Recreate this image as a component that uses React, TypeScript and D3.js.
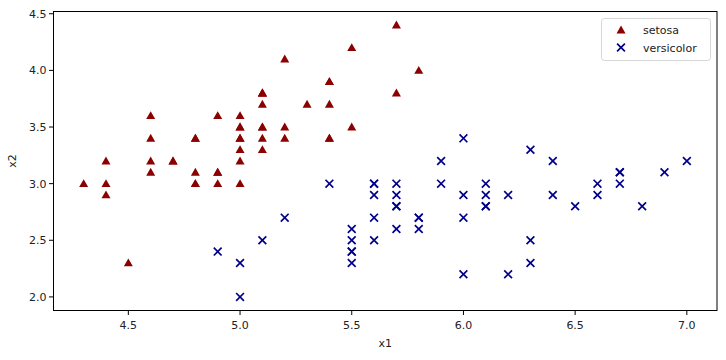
import React from "react";
import * as d3 from "d3";

const setosaX = [5.1,4.9,4.7,4.6,5.0,5.4,4.6,5.0,4.4,4.9,5.4,4.8,4.8,4.3,5.8,5.7,5.4,5.1,5.7,5.1,5.4,5.1,4.6,5.1,4.8,5.0,5.0,5.2,5.2,4.7,4.8,5.4,5.2,5.5,4.9,5.0,5.5,4.9,4.4,5.1,5.0,4.5,4.4,5.0,5.1,4.8,5.1,4.6,5.3,5.0];
const setosaY = [3.5,3.0,3.2,3.1,3.6,3.9,3.4,3.4,2.9,3.1,3.7,3.4,3.0,3.0,4.0,4.4,3.9,3.5,3.8,3.8,3.4,3.7,3.6,3.3,3.4,3.0,3.4,3.5,3.4,3.2,3.1,3.4,4.1,4.2,3.1,3.2,3.5,3.6,3.0,3.4,3.5,2.3,3.2,3.5,3.8,3.0,3.8,3.2,3.7,3.3];
const versiX = [7.0,6.4,6.9,5.5,6.5,5.7,6.3,4.9,6.6,5.2,5.0,5.9,6.0,6.1,5.6,6.7,5.6,5.8,6.2,5.6,5.9,6.1,6.3,6.1,6.4,6.6,6.8,6.7,6.0,5.7,5.5,5.5,5.8,6.0,5.4,6.0,6.7,6.3,5.6,5.5,5.5,6.1,5.8,5.0,5.6,5.7,5.7,6.2,5.1,5.7];
const versiY = [3.2,3.2,3.1,2.3,2.8,2.8,3.3,2.4,2.9,2.7,2.0,3.0,2.2,2.9,2.9,3.1,3.0,2.7,2.2,2.5,3.2,2.8,2.5,2.8,2.9,3.0,2.8,3.0,2.9,2.6,2.4,2.4,2.7,2.7,3.0,3.4,3.1,2.3,3.0,2.5,2.6,3.0,2.6,2.3,2.7,3.0,2.9,2.9,2.5,2.8];
const xTicks = [4.5,5.0,5.5,6.0,6.5,7.0];
const yTicks = [2.0,2.5,3.0,3.5,4.0,4.5];
const labels = ["setosa","versicolor"];

const W = 726, H = 360;
const L = 53.5, R = 717, T = 11.5, B = 310.5;
const font = "DejaVu Sans, sans-serif";

function tri(cx: number, cy: number, s = 4.5) {
  return `M${cx},${cy - s}L${cx + s},${cy + s * 0.75}L${cx - s},${cy + s * 0.75}Z`;
}
function cross(cx: number, cy: number, s = 3.9) {
  return `M${cx - s},${cy - s}L${cx + s},${cy + s}M${cx - s},${cy + s}L${cx + s},${cy - s}`;
}

export default function App() {
  const xAll = [...setosaX, ...versiX];
  const yAll = [...setosaY, ...versiY];
  const [x0, x1] = d3.extent(xAll) as [number, number];
  const [y0, y1] = d3.extent(yAll) as [number, number];
  const mx = (x1 - x0) * 0.05, my = (y1 - y0) * 0.05;
  const x = d3.scaleLinear().domain([x0 - mx, x1 + mx]).range([L, R]);
  const y = d3.scaleLinear().domain([y0 - my, y1 + my]).range([B, T]);
  const red = "#8b0000", blue = "#00008b";
  return (
    <svg width={W} height={H} style={{ position: "absolute", left: 0, top: 0 }} fontFamily={font}>
      <rect width={W} height={H} fill="white" />
      {setosaX.map((v, i) => (
        <path key={"s" + i} d={tri(x(v), y(setosaY[i]))} fill={red} />
      ))}
      {versiX.map((v, i) => (
        <path key={"v" + i} d={cross(x(v), y(versiY[i]))} stroke={blue} strokeWidth={1.7} fill="none" />
      ))}
      <rect x={L} y={T} width={R - L} height={B - T} fill="none" stroke="black" strokeWidth={1} />
      {xTicks.map((t) => (
        <g key={"xt" + t}>
          <line x1={x(t)} x2={x(t)} y1={B} y2={B + 4.5} stroke="black" />
          <text x={x(t)} y={B + 18} fontSize={11} textAnchor="middle" fill="#222">{t.toFixed(1)}</text>
        </g>
      ))}
      {yTicks.map((t) => (
        <g key={"yt" + t}>
          <line x1={L - 4.5} x2={L} y1={y(t)} y2={y(t)} stroke="black" />
          <text x={L - 7} y={y(t) + 4} fontSize={11} textAnchor="end" fill="#222">{t.toFixed(1)}</text>
        </g>
      ))}
      <text x={(L + R) / 2} y={347} fontSize={11} textAnchor="middle" fill="#222">x1</text>
      <text transform={`translate(16,${(T + B) / 2}) rotate(-90)`} fontSize={11} textAnchor="middle" fill="#222">x2</text>
      <rect x={601.5} y={18.5} width={109} height={42} rx={3} fill="white" fillOpacity={0.8} stroke="#d6d6d6" />
      <path d={tri(621, 30)} fill={red} />
      <path d={cross(621, 47.5)} stroke={blue} strokeWidth={1.7} fill="none" />
      <text x={643} y={34} fontSize={11} fill="#222">{labels[0]}</text>
      <text x={643} y={51.5} fontSize={11} fill="#222">{labels[1]}</text>
    </svg>
  );
}
